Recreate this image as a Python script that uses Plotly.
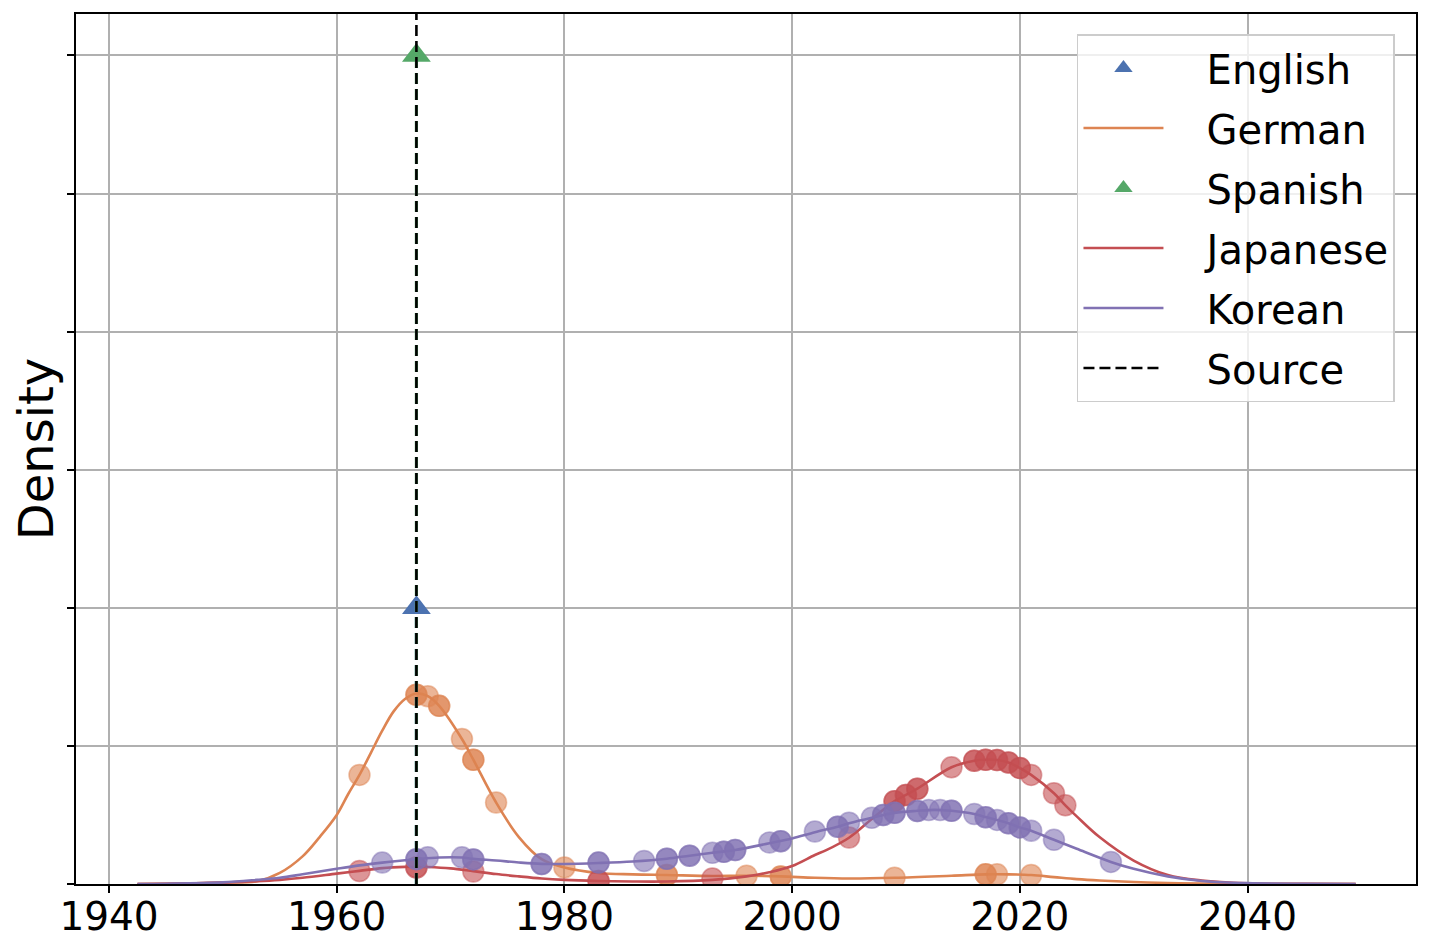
import plotly.graph_objects as go

# source year and single-text languages
source_year = 1967
english_year, english_density = 1967, 0.020
spanish_year, spanish_density = 1967, 0.060

# density curves (density units)
german_x = [1942.5, 1945, 1950, 1953, 1955, 1957, 1958.5, 1960, 1961, 1962, 1963, 1964, 1965, 1966, 1967,
            1968, 1969, 1971, 1972, 1974, 1976, 1978, 1980, 1983, 1986, 1989, 1993, 1996, 1999, 2002,
            2005, 2009, 2014, 2017, 2019, 2021, 2023, 2025, 2027, 2030, 2033, 2036, 2040, 2045, 2049.5]
german_y = [0.0, 0.00002, 0.0001, 0.0002, 0.0008, 0.002, 0.0034, 0.0050, 0.0065, 0.0079, 0.0095, 0.0111,
            0.0125, 0.0134, 0.0138, 0.0136, 0.0129, 0.0105, 0.0090, 0.0059, 0.0034, 0.0018, 0.0012,
            0.0008, 0.0007, 0.00065, 0.00058, 0.0006, 0.00055, 0.00045, 0.0004, 0.00045, 0.0006,
            0.0007, 0.0007, 0.00065, 0.0005, 0.00035, 0.00025, 0.00015, 0.00007, 0.00003, 0.00001, 0.0, 0.0]

japanese_x = [1942.5, 1945, 1950, 1953, 1955, 1957, 1960, 1962, 1964, 1966, 1967, 1968, 1970, 1972, 1974,
              1976, 1978, 1980, 1983, 1986, 1989, 1993, 1996, 1998, 2000, 2002, 2003, 2005, 2007, 2009,
              2010, 2011, 2014, 2016, 2017, 2018, 2019, 2020, 2021, 2023, 2024, 2025, 2027, 2030, 2033,
              2036, 2040, 2045, 2049.5]
japanese_y = [0.0, 0.00002, 0.0001, 0.0002, 0.0003, 0.00045, 0.00075, 0.00095, 0.00115, 0.00124, 0.00125,
              0.00123, 0.00113, 0.00093, 0.00072, 0.00055, 0.0004, 0.0003, 0.00022, 0.00018, 0.00018,
              0.0003, 0.00055, 0.00085, 0.0013, 0.0021, 0.00245, 0.00335, 0.0047, 0.0060, 0.00645,
              0.0069, 0.00845, 0.00893, 0.0090, 0.00898, 0.0088, 0.0084, 0.0079, 0.00657, 0.0057, 0.0049,
              0.0034, 0.0017, 0.00065, 0.00025, 0.00005, 0.00001, 0.0]

korean_x = [1942.5, 1945, 1950, 1953, 1955, 1957, 1960, 1962, 1964, 1966, 1967, 1969, 1971, 1972, 1974,
            1976, 1978, 1980, 1983, 1986, 1989, 1991, 1993, 1995, 1998, 2000, 2002, 2004, 2005, 2007,
            2009, 2011, 2012.5, 2014, 2016, 2017, 2018, 2019, 2020, 2021, 2023, 2025, 2028, 2030, 2033,
            2036, 2040, 2045, 2049.5]
korean_y = [0.0, 0.00002, 0.00012, 0.0003, 0.00045, 0.0007, 0.0011, 0.00135, 0.00155, 0.00172, 0.0018,
            0.00192, 0.00192, 0.00182, 0.0017, 0.00156, 0.00146, 0.00145, 0.00152, 0.00163, 0.00183,
            0.00205, 0.00226, 0.00246, 0.00295, 0.0033, 0.00375, 0.00415, 0.0044, 0.0048, 0.00515,
            0.0053, 0.00537, 0.0053, 0.00507, 0.00485, 0.00464, 0.0044, 0.0041, 0.00386, 0.0032,
            0.00255, 0.0016, 0.0011, 0.00055, 0.00022, 0.00006, 0.00001, 0.0]

# individual texts (year, density on the curve); repeated years = several texts
german_pts_x = [1962, 1967, 1967, 1968, 1969, 1969, 1971, 1972, 1972, 1974, 1980, 1989, 1989, 1996,
                1999, 1999, 2009, 2017, 2017, 2018, 2021]
german_pts_y = [0.0079, 0.0137, 0.0137, 0.0136, 0.0129, 0.0129, 0.0105, 0.0090, 0.0090, 0.0059, 0.0012,
                0.00065, 0.00065, 0.0006, 0.00055, 0.00055, 0.00045, 0.0007, 0.0007, 0.0007, 0.00065]

japanese_pts_x = [1962, 1967, 1967, 1972, 1983, 1983, 1993, 2005, 2009, 2009, 2010, 2010, 2011, 2011,
                  2014, 2016, 2016, 2017, 2017, 2018, 2018, 2019, 2019, 2020, 2020, 2021, 2023, 2024]
japanese_pts_y = [0.00094, 0.0012, 0.0012, 0.0009, 0.00022, 0.00022, 0.0004, 0.00336, 0.0060, 0.0060,
                  0.00645, 0.00645, 0.0069, 0.0069, 0.00845, 0.00893, 0.00893, 0.0090, 0.0090, 0.00898,
                  0.00898, 0.0088, 0.0088, 0.0084, 0.0084, 0.0079, 0.00657, 0.0057]

korean_pts_x = [1964, 1967, 1967, 1968, 1971, 1972, 1972, 1978, 1978, 1983, 1983, 1987, 1989, 1989,
                1991, 1991, 1993, 1994, 1994, 1995, 1995, 1998, 1999, 1999, 2002, 2004, 2004, 2005,
                2007, 2008, 2008, 2009, 2009, 2011, 2011, 2012, 2013, 2014, 2014, 2016, 2017, 2017,
                2018, 2019, 2019, 2020, 2020, 2021, 2023, 2028]
korean_pts_y = [0.00155, 0.0018, 0.0018, 0.00193, 0.00193, 0.00178, 0.00178, 0.00145, 0.00145, 0.00155,
                0.00155, 0.00167, 0.00183, 0.00183, 0.00205, 0.00205, 0.00226, 0.00233, 0.00233,
                0.00246, 0.00246, 0.0030, 0.0031, 0.0031, 0.0038, 0.00415, 0.00415, 0.00444, 0.0048,
                0.0050, 0.0050, 0.00516, 0.00516, 0.00529, 0.00529, 0.00536, 0.00536, 0.0053, 0.0053,
                0.00507, 0.00483, 0.00483, 0.00464, 0.0044, 0.0044, 0.0041, 0.0041, 0.00386, 0.0032,
                0.0016]

x_ticks = [1940, 1960, 1980, 2000, 2020, 2040]

BLUE, ORANGE, GREEN, RED, PURPLE = "#4C72B0", "#DD8452", "#55A868", "#C44E52", "#8172B3"
Y_TOP = 0.063
PAD = "\u00a0\u00a0\u00a0"  # gap between legend symbol and label


def rgba(hex_color, a):
    h = hex_color.lstrip("#")
    return f"rgba({int(h[0:2], 16)},{int(h[2:4], 16)},{int(h[4:6], 16)},{a})"


fig = go.Figure()

series = [
    ("German", german_x, german_y, german_pts_x, german_pts_y, ORANGE, 2),
    ("Japanese", japanese_x, japanese_y, japanese_pts_x, japanese_pts_y, RED, 4),
    ("Korean", korean_x, korean_y, korean_pts_x, korean_pts_y, PURPLE, 5),
]
for name, cx, cy, px_, py_, color, rank in series:
    fig.add_trace(go.Scatter(
        x=cx, y=cy, mode="lines", name=PAD + name, line=dict(color=color, width=2.6, shape="spline"),
        legendrank=rank, legendgroup=name,
    ))
    fig.add_trace(go.Scatter(
        x=px_, y=py_, mode="markers", showlegend=False, legendgroup=name,
        marker=dict(size=21, color=rgba(color, 0.6), line=dict(color=rgba(color, 0.5), width=1.5)),
    ))

# single-text languages: dashed drop line plus triangle
for name, year, dens, color, rank in [("English", english_year, english_density, BLUE, 1),
                                      ("Spanish", spanish_year, spanish_density, GREEN, 3)]:
    fig.add_trace(go.Scatter(
        x=[year, year], y=[0, dens], mode="lines", showlegend=False, legendgroup=name,
        line=dict(color=color, width=3.2, dash="11px,5px"),
    ))
    fig.add_trace(go.Scatter(
        x=[year], y=[dens], mode="markers", name=PAD + name, legendrank=rank, legendgroup=name,
        marker=dict(symbol="triangle-up", size=25, color=color),
    ))

fig.add_trace(go.Scatter(
    x=[source_year, source_year], y=[0, Y_TOP], mode="lines", name=PAD + "Source",
    line=dict(color="black", width=2.6, dash="11px,5px"), legendrank=6, legendgroup="Source",
))

# the page body adds an 8px offset, so the figure is 8px smaller on each axis
fig.update_layout(
    width=1422, height=944,
    margin=dict(l=68, r=14, t=6, b=68),
    plot_bgcolor="white", paper_bgcolor="white",
    font=dict(family="DejaVu Sans", size=39, color="black"),
    legend=dict(
        x=0.9843, y=0.977, xanchor="right", yanchor="top",
        bgcolor="rgba(255,255,255,0.8)", bordercolor="#cccccc", borderwidth=1.5,
        font=dict(size=40), itemwidth=80, tracegroupgap=5,
    ),
    xaxis=dict(
        range=[1937.1, 2054.8], tickvals=x_ticks, showgrid=True, gridcolor="#b0b0b0", gridwidth=1.5,
        showline=True, linecolor="black", linewidth=1.8, mirror=True, automargin=False,
        ticks="outside", ticklen=7, tickwidth=1.5, tickcolor="black", zeroline=False,
        ticklabelstandoff=-10,
    ),
    yaxis=dict(
        range=[0, Y_TOP], dtick=0.01, showticklabels=False, showgrid=True, gridcolor="#b0b0b0",
        gridwidth=1.5, showline=True, linecolor="black", linewidth=1.8, mirror=True, automargin=False,
        ticks="outside", ticklen=7, tickwidth=1.5, tickcolor="black", zeroline=False,
        title=dict(text="Density", font=dict(size=48), standoff=0),
    ),
)

fig.write_html("out.html")
